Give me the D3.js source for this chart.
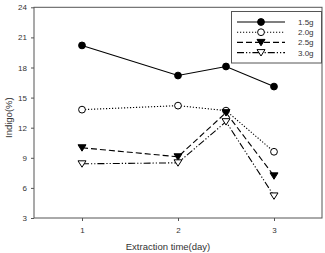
<!DOCTYPE html>
<html lang="en">
<head>
	<meta charset="UTF-8"/>
	<title>Indigo vs extraction time</title>
	<script src="https://d3js.org/d3.v7.min.js"></script>
	<style>
		body { margin:0; background:#fff; }
		svg { display:block; font-family:"Liberation Sans", Arial, sans-serif; }
	</style>
</head>
<body>
	<script>

	var w=325;
	var h=253;

	// data
	var days=[1,2,2.5,3];
	var seriesNames=["1.5g","2.0g","2.5g","3.0g"];
	var s15=[20.2,17.2,18.1,16.1];
	var s20=[13.8,14.2,13.7,9.6];
	var s25=[10.0,9.1,13.5,7.2];
	var s30=[8.4,8.5,12.6,5.2];
	var xTicks=[1,2,3];
	var yTicks=[3,6,9,12,15,18,21,24];

	var series=[
		{name:seriesNames[0], values:s15, dash:null, marker:"circle", fill:"#000"},
		{name:seriesNames[1], values:s20, dash:"1.2,1.8", marker:"circle", fill:"#fff"},
		{name:seriesNames[2], values:s25, dash:"6,3", marker:"down", fill:"#000"},
		{name:seriesNames[3], values:s30, dash:"7,2,1.2,2,1.2,2", marker:"down", fill:"#fff"}
	];

	var pLeft=34, pRight=322, pTop=7.3, pBottom=218;

	var xScale=d3.scaleLinear().domain([0.5,3.5]).range([pLeft,pRight]);
	var yScale=d3.scaleLinear().domain([3,24]).range([pBottom,pTop]);

	var svg=d3.select("body")
				.append("svg")
				.attr("width",w)
				.attr("height",h);

	var axisColor="#555";

	// x axis
	var xAxis=d3.axisBottom(xScale).tickValues(xTicks).tickFormat(d3.format("d")).tickSize(3).tickPadding(6);
	var gx=svg.append("g")
		.attr("transform","translate(0,"+pBottom+")")
		.call(xAxis);
	gx.select(".domain").remove();
	gx.selectAll("line").attr("stroke",axisColor);
	gx.selectAll("text").attr("font-size",8).attr("fill","#333")
		.attr("font-family","Liberation Sans, Arial, sans-serif");

	// y axis
	var yAxis=d3.axisLeft(yScale).tickValues(yTicks).tickFormat(d3.format("d")).tickSize(3).tickPadding(4);
	var gy=svg.append("g")
		.attr("transform","translate("+pLeft+",0)")
		.call(yAxis);
	gy.select(".domain").remove();
	gy.selectAll("line").attr("stroke",axisColor);
	gy.selectAll("text").attr("font-size",8).attr("fill","#333")
		.attr("font-family","Liberation Sans, Arial, sans-serif");

	// frame
	svg.append("rect")
		.attr("x",pLeft).attr("y",pTop)
		.attr("width",pRight-pLeft).attr("height",pBottom-pTop)
		.attr("fill","none").attr("stroke",axisColor).attr("stroke-width",1);

	var line=d3.line()
		.x(function(d){ return xScale(d[0]); })
		.y(function(d){ return yScale(d[1]); });

	function drawMarker(g,type,fill,x,y){
		if(type=="circle"){
			g.append("circle").attr("cx",x).attr("cy",y).attr("r",3.4)
				.attr("fill",fill).attr("stroke","#000").attr("stroke-width",1);
		} else {
			var s=4;
			g.append("path")
				.attr("d","M"+(x-s)+","+(y-s*0.75)+"L"+(x+s)+","+(y-s*0.75)+"L"+x+","+(y+s*0.85)+"Z")
				.attr("fill",fill).attr("stroke","#000").attr("stroke-width",1);
		}
	}

	series.forEach(function(s){
		var pts=days.map(function(d,i){ return [d,s.values[i]]; });
		svg.append("path")
			.attr("d",line(pts))
			.attr("fill","none")
			.attr("stroke","#000")
			.attr("stroke-width",1.1)
			.attr("stroke-dasharray",s.dash);
		var g=svg.append("g");
		pts.forEach(function(p){
			drawMarker(g,s.marker,s.fill,xScale(p[0]),yScale(p[1]));
		});
	});

	// legend
	var lg=svg.append("g");
	lg.append("rect")
		.attr("x",231.5).attr("y",11.5).attr("width",90).attr("height",51.5)
		.attr("fill","#fff").attr("stroke",axisColor).attr("stroke-width",1);
	series.forEach(function(s,i){
		var y=22+i*10.2;
		lg.append("line")
			.attr("x1",237).attr("x2",285).attr("y1",y).attr("y2",y)
			.attr("stroke","#000").attr("stroke-width",1.1)
			.attr("stroke-dasharray",s.dash);
		drawMarker(lg,s.marker,s.fill,261,y);
		lg.append("text")
			.attr("x",298).attr("y",y+3)
			.attr("font-size",8).attr("fill","#333")
			.text(s.name);
	});

	//X axis Label
	svg.append("text")
		.attr("x",(pLeft+pRight)/2 - 10)
		.attr("y",250)
		.style("text-anchor","middle")
		.attr("font-size",9.5).attr("fill","#333")
		.text("Extraction time(day)");

	//Y axis Label
	svg.append("text")
		.attr("transform","rotate(-90)")
		.attr("x",-(pTop+pBottom)/2 - 5)
		.attr("y",9)
		.attr("dy",".35em")
		.style("text-anchor","middle")
		.attr("font-size",9.5).attr("fill","#333")
		.text("Indigo(%)");

	</script>
</body>
</html>
